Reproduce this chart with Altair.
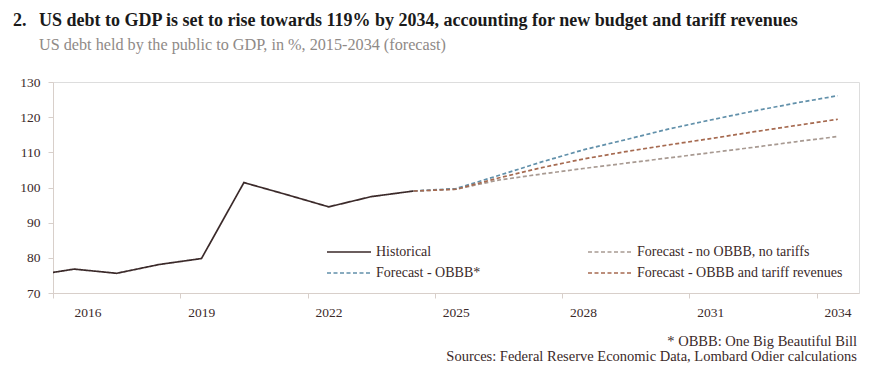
import altair as alt
import pandas as pd

# ---- data ----
hist_years = [2015, 2016, 2017, 2018, 2019, 2020, 2021, 2022, 2023, 2024]
hist_vals = [74.9, 76.8, 75.6, 78.1, 79.8, 101.4, 98.0, 94.5, 97.4, 99.0]

fc_years = [2024, 2025, 2026, 2027, 2028, 2029, 2030, 2031, 2032, 2033, 2034]
fc_base = [99.0, 99.5, 102.1, 103.8, 105.4, 106.9, 108.4, 109.9, 111.4, 113.0, 114.5]
fc_obbb = [99.0, 99.7, 103.4, 107.2, 110.7, 113.6, 116.6, 119.2, 121.7, 124.0, 126.1]
fc_tariff = [99.0, 99.5, 102.7, 105.6, 108.1, 110.2, 112.1, 113.9, 115.8, 117.6, 119.4]

series_names = [
    "Historical",
    "Forecast - no OBBB, no tariffs",
    "Forecast - OBBB*",
    "Forecast - OBBB and tariff revenues",
]
series_colors = ["#3b2a2a", "#a89a92", "#6190aa", "#a66a50"]
series_dash = [[1, 0], [4, 2.5], [4, 2.5], [4, 2.5]]

y_ticks = [70, 80, 90, 100, 110, 120, 130]
x_ticks = [2015.5, 2018.5, 2021.5, 2024.5, 2027.5, 2030.5, 2033.5]

chart_number = "2."
title_text = "US debt to GDP is set to rise towards 119% by 2034, accounting for new budget and tariff revenues"
subtitle_text = "US debt held by the public to GDP, in %, 2015-2034 (forecast)"
footer_lines = ["* OBBB: One Big Beautiful Bill",
                "Sources: Federal Reserve Economic Data, Lombard Odier calculations"]

# ---- table ----
rows = []
for yr, v in zip(hist_years, hist_vals):
    rows.append({"year": yr, "value": v, "series": series_names[0]})
for name, vals in zip(series_names[1:], [fc_base, fc_obbb, fc_tariff]):
    for yr, v in zip(fc_years, vals):
        rows.append({"year": yr, "value": v, "series": name})
df = pd.DataFrame(rows)

FONT = "Liberation Serif"
TXT = "#3b2a2a"
AXC = "#d8cfca"
W, H = 806, 211

lines = alt.Chart(df).mark_line(strokeWidth=1.7, clip=True).encode(
    x=alt.X("year:Q",
            scale=alt.Scale(domain=[2015.5, 2034.5], nice=False, zero=False),
            axis=alt.Axis(values=x_ticks, title=None, grid=False,
                          labelExpr="datum.value + 0.5", labelOffset=21,
                          tickSize=5, labelPadding=7, domainColor=AXC, tickColor=AXC,
                          labelFont=FONT, labelFontSize=13.5, labelColor=TXT)),
    y=alt.Y("value:Q",
            scale=alt.Scale(domain=[70, 130], nice=False, zero=False),
            axis=alt.Axis(values=y_ticks, title=None, grid=False,
                          tickSize=5, labelPadding=8, domainColor=AXC, tickColor=AXC,
                          labelFont=FONT, labelFontSize=13.5, labelColor=TXT)),
    color=alt.Color("series:N",
                    scale=alt.Scale(domain=series_names, range=series_colors),
                    legend=alt.Legend(title=None, orient="none", legendX=273, legendY=158,
                                      columns=2, direction="horizontal",
                                      columnPadding=103, rowPadding=2,
                                      symbolType="M-1,0H3", symbolSize=484,
                                      symbolStrokeWidth=1.7, labelOffset=26, labelLimit=400,
                                      labelFont=FONT, labelFontSize=14, labelColor=TXT)),
    strokeDash=alt.StrokeDash("series:N",
                              scale=alt.Scale(domain=series_names, range=series_dash),
                              legend=alt.Legend(title=None)),
    order=alt.Order("year:Q"),
)

one = pd.DataFrame({"k": [0]})

footer = alt.Chart(one).mark_text(
    text=footer_lines, align="right", baseline="middle", font=FONT, fontSize=14.5,
    color=TXT, lineHeight=15,
).encode(x=alt.value(W - 2), y=alt.value(H + 49))

number = alt.Chart(one).mark_text(
    text=chart_number, align="left", baseline="alphabetic", font=FONT, fontSize=18,
    fontWeight="bold", color="#1a1a1a",
).encode(x=alt.value(-40), y=alt.value(-56))

title = alt.Chart(one).mark_text(
    text=title_text, align="left", baseline="alphabetic", font=FONT, fontSize=18,
    fontWeight="bold", color="#1a1a1a",
).encode(x=alt.value(-14), y=alt.value(-56))

subtitle = alt.Chart(one).mark_text(
    text=subtitle_text, align="left", baseline="alphabetic", font=FONT, fontSize=16.2,
    color="#8f8a87",
).encode(x=alt.value(-14), y=alt.value(-32))

chart = alt.layer(lines, footer, number, title, subtitle).properties(
    width=W, height=H,
    autosize=alt.AutoSizeParams(type="none"),
    padding={"left": 45, "top": 74, "right": 20, "bottom": 80},
).configure_view(stroke=AXC, strokeWidth=1.2).configure(background="white")

chart.save("out.html", embed_options={"renderer": "svg", "actions": False})
